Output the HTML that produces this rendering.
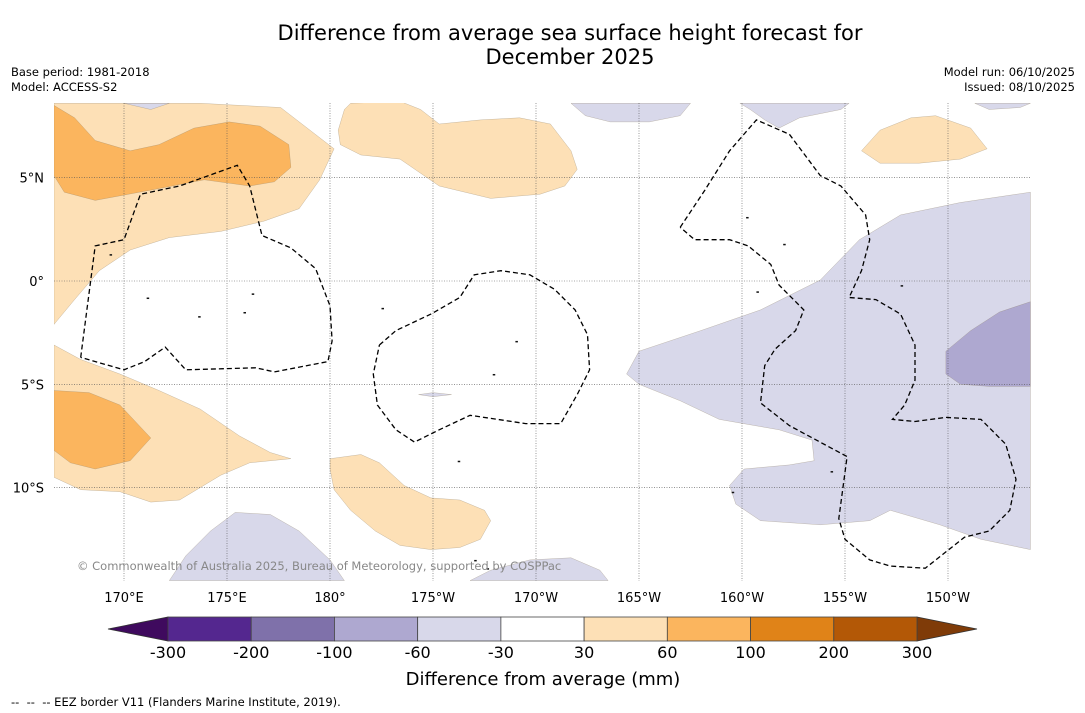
<!DOCTYPE html>
<html><head><meta charset="utf-8"><style>
body{margin:0;background:#fff;font-family:"DejaVu Sans","Liberation Sans",sans-serif;}
#wrap{position:relative;width:1085px;height:713px;overflow:hidden;background:#fff;}
.t{position:absolute;white-space:nowrap;color:#000;}
</style></head><body>
<div id="wrap">
<div class="t" style="left:0;width:1140px;top:21px;text-align:center;font-size:21px;line-height:24px;">Difference from average sea surface height forecast for<br>December 2025</div>
<div class="t" style="left:11px;top:65px;font-size:11.5px;line-height:15px;">Base period: 1981-2018<br>Model: ACCESS-S2</div>
<div class="t" style="right:10px;top:65px;font-size:11.5px;line-height:15px;text-align:right;">Model run: 06/10/2025<br>Issued: 08/10/2025</div>
<svg id="map" width="1085" height="713" style="position:absolute;left:0;top:0"></svg>
<div class="t" style="left:11px;top:695px;font-size:11.5px;">-- &nbsp;-- &nbsp;-- EEZ border V11 (Flanders Marine Institute, 2019).</div>
</div>
<script>
const lonTicks=[170,175,180,185,190,195,200,205,210];
const lonLabels=["170°E","175°E","180°","175°W","170°W","165°W","160°W","155°W","150°W"];
const latTicks=[5,0,-5,-10];
const latLabels=["5°N","0°","5°S","10°S"];
const cbLevels=["-300","-200","-100","-60","-30","30","60","100","200","300"];
const cbColors=["#54278f","#7f71aa","#aea8d0","#d8d8ea","#ffffff","#fde0b6","#fbb55e","#e08318","#b35806"];
const cbUnder="#3f0a5e", cbOver="#7f3b08";
const lightOrange=[
[[166.6,8.6],[173.7,8.6],[177.6,8.4],[180.2,6.4],[179.5,4.9],[178.5,3.5],[176.8,2.9],[174.7,2.4],[172.2,2.1],[170.3,1.5],[168.8,0.5],[167.6,-0.9],[166.6,-2.1]],
[[181.0,8.6],[183.4,8.7],[184.4,8.3],[185.3,7.6],[187.3,7.8],[189.2,7.9],[190.7,7.6],[191.7,6.3],[192.0,5.4],[191.4,4.6],[190.2,4.2],[187.8,4.0],[185.3,4.6],[183.4,5.9],[181.5,6.1],[180.5,6.6],[180.4,7.3],[180.7,8.3]],
[[205.8,6.3],[206.7,7.3],[208.2,7.9],[209.4,8.0],[211.1,7.4],[211.9,6.4],[210.6,5.9],[208.6,5.7],[206.7,5.7]],
[[166.6,-3.1],[167.9,-3.8],[169.8,-4.5],[171.7,-5.3],[173.7,-6.2],[175.6,-7.5],[177.1,-8.3],[178.1,-8.6],[176.1,-8.8],[174.7,-9.4],[172.7,-10.6],[171.3,-10.7],[169.8,-10.2],[167.9,-10.1],[166.6,-9.5]],
[[180.0,-8.6],[181.5,-8.4],[182.4,-8.8],[183.6,-9.9],[184.9,-10.5],[186.3,-10.6],[187.5,-11.1],[187.8,-11.6],[187.3,-12.5],[186.3,-12.9],[184.9,-13.0],[183.4,-12.8],[182.2,-12.1],[181.0,-11.1],[180.2,-10.1],[180.0,-9.1]]
];
const midOrange=[
[[166.6,8.5],[167.6,7.9],[168.6,6.8],[170.3,6.3],[171.7,6.6],[173.4,7.4],[175.1,7.7],[176.6,7.5],[178.0,6.6],[178.1,5.5],[177.3,4.8],[176.1,4.6],[173.9,4.9],[171.3,4.4],[168.6,3.9],[167.1,4.3],[166.6,5.1]],
[[166.6,-5.3],[168.3,-5.4],[169.8,-6.0],[171.3,-7.6],[170.3,-8.7],[168.6,-9.1],[167.4,-8.8],[166.6,-8.2]]
];
const lightPurple=[
[[194.4,-4.5],[195.0,-3.4],[198.0,-2.4],[200.9,-1.4],[203.8,0.05],[205.7,2.0],[207.7,3.2],[210.6,3.8],[214.0,4.3],[214.0,-13.0],[211.6,-12.5],[209.6,-11.8],[207.2,-11.1],[206.2,-11.6],[203.8,-11.8],[200.9,-11.6],[199.7,-10.8],[199.4,-9.9],[200.1,-9.1],[202.3,-8.9],[203.5,-8.7],[203.4,-7.7],[201.8,-7.2],[198.9,-6.7],[197.0,-5.8],[195.0,-5.0]],
[[199.9,8.6],[205.2,8.6],[204.8,8.3],[202.8,7.9],[201.8,7.4],[201.1,7.8],[200.4,8.3]],
[[191.7,8.6],[197.5,8.6],[197.0,8.0],[195.5,7.7],[193.6,7.7],[192.4,8.0]],
[[170.0,8.6],[172.2,8.6],[171.3,8.3]],
[[211.3,8.6],[214.0,8.6],[213.5,8.4],[212.0,8.3]],
[[172.2,-14.5],[173.0,-13.3],[174.2,-12.1],[175.4,-11.2],[177.1,-11.3],[178.5,-12.1],[180.0,-13.5],[180.7,-14.5]],
[[186.8,-14.5],[187.8,-14.0],[189.7,-13.5],[191.7,-13.4],[193.1,-14.0],[193.5,-14.5]],
[[184.3,-5.5],[185.0,-5.4],[185.9,-5.5],[185.0,-5.6]]
];
const midPurple=[
[[209.9,-3.4],[211.1,-2.4],[212.5,-1.5],[214.0,-1.0],[214.0,-5.1],[212.0,-5.1],[210.6,-5.0],[209.9,-4.5]]
];
const eez=[
[[167.9,-3.7],[168.6,1.7],[170.0,2.0],[170.8,4.2],[172.7,4.6],[175.5,5.6],[176.1,4.6],[176.7,2.2],[178.1,1.6],[179.3,0.6],[180.0,-1.2],[180.1,-2.9],[179.9,-3.9],[177.3,-4.4],[176.4,-4.2],[173.0,-4.3],[172.0,-3.2],[171.0,-3.9],[170.0,-4.3],[167.9,-3.7]],
[[182.4,-3.1],[183.2,-2.4],[184.9,-1.6],[186.3,-0.8],[187.0,0.3],[188.3,0.5],[189.7,0.3],[190.9,-0.4],[191.9,-1.4],[192.5,-2.6],[192.6,-4.3],[192.0,-5.5],[191.2,-6.9],[189.5,-6.9],[186.8,-6.5],[185.3,-7.2],[184.1,-7.8],[183.2,-7.2],[182.3,-6.0],[182.1,-4.5],[182.4,-3.1]],
[[197.0,2.6],[198.2,4.4],[199.4,6.3],[200.7,7.8],[202.3,7.1],[203.8,5.1],[204.8,4.6],[206.0,3.2],[206.2,2.0],[205.8,0.5],[205.2,-0.8],[206.5,-0.9],[207.7,-1.6],[208.4,-3.1],[208.4,-4.8],[207.9,-6.0],[207.3,-6.7],[208.4,-6.8],[209.9,-6.6],[211.6,-6.7],[212.8,-7.9],[213.3,-9.6],[213.0,-11.1],[212.0,-12.1],[210.8,-12.4],[208.9,-13.9],[207.2,-13.8],[206.2,-13.5],[205.0,-12.5],[204.7,-11.5],[205.1,-8.5],[202.3,-7.0],[200.9,-5.9],[201.1,-4.1],[201.6,-3.3],[202.6,-2.4],[203.0,-1.4],[201.8,-0.2],[201.4,0.8],[200.3,1.7],[199.4,2.0],[197.7,2.0],[197.0,2.6]]
];
const islands=[[169.3,1.3],[171.1,-0.8],[173.6,-1.7],[175.8,-1.5],[176.2,-0.6],[182.5,-1.3],[187.9,-4.5],[189.0,-2.9],[186.2,-8.7],[200.2,3.1],[202.0,1.8],[207.7,-0.2],[204.3,-9.2],[187.6,-13.9],[187.0,-13.5],[199.5,-10.2],[200.7,-0.5]];

const NS="http://www.w3.org/2000/svg";
const FF='DejaVu Sans, Liberation Sans, sans-serif';
const svg=document.getElementById('map');
const X0=54,X1=1031,Y0=103,Y1=581;
const xS=lon=>124+(lon-170)*20.6;
const yS=lat=>281-lat*20.66;
function mk(tag,attrs,parent){const e=document.createElementNS(NS,tag);for(const k in attrs)e.setAttribute(k,attrs[k]);(parent||svg).appendChild(e);return e;}
const defs=mk('defs',{});
const cp=mk('clipPath',{id:'mc'},defs);
mk('rect',{x:X0,y:Y0,width:X1-X0,height:Y1-Y0},cp);
const g=mk('g',{'clip-path':'url(#mc)'});
function poly(list,fill,name){list.forEach(p=>{
 const e=mk('path',{d:'M'+p.map(q=>xS(q[0]).toFixed(1)+','+yS(q[1]).toFixed(1)).join('L')+'Z',fill:fill,stroke:'#8a7a60','stroke-width':0.4,'stroke-opacity':0.6},g);
 
 
});}
poly(lightOrange,cbColors[5],'anomaly-30-60');
poly(midOrange,cbColors[6],'anomaly-60-100');
poly(lightPurple,cbColors[3],'anomaly-neg60-neg30');
poly(midPurple,cbColors[2],'anomaly-neg100-neg60');
lonTicks.forEach((l,i)=>{
 const x=xS(l);
 const ln=mk('line',{x1:x,x2:x,y1:Y0,y2:Y1,stroke:'#555','stroke-width':0.6,'stroke-dasharray':'1,1.5'},g);
 
 
 const t=mk('text',{x:x,y:602,'font-size':13,'text-anchor':'middle','font-family':FF});
 t.textContent=lonLabels[i];
 
 
});
latTicks.forEach((l,i)=>{
 const y=yS(l);
 const ln=mk('line',{x1:X0,x2:X1,y1:y,y2:y,stroke:'#555','stroke-width':0.6,'stroke-dasharray':'1,1.5'},g);
 
 
 const t=mk('text',{x:44,y:y+5,'font-size':13,'text-anchor':'end','font-family':FF});
 t.textContent=latLabels[i];
 
 
});
eez.forEach(p=>{
 const e=mk('path',{d:'M'+p.map(q=>xS(q[0]).toFixed(1)+','+yS(q[1]).toFixed(1)).join('L'),fill:'none',stroke:'#000','stroke-width':1.3,'stroke-dasharray':'5,3'},g);
 
 
});
islands.forEach(q=>{
 const e=mk('rect',{x:xS(q[0]),y:yS(q[1]),width:2.5,height:1.5,fill:'#111'},g);
 
 
});
const cr=mk('text',{x:77,y:570,'font-size':11.5,fill:'#888','font-family':FF},g);
cr.textContent='© Commonwealth of Australia 2025, Bureau of Meteorology, supported by COSPPac';


const cbX0=168,cbW=(917-168)/cbColors.length,cbY=617,cbH=24;
const ut=mk('polygon',{points:`108,${cbY+cbH/2} ${cbX0},${cbY} ${cbX0},${cbY+cbH}`,fill:cbUnder,stroke:'#333','stroke-width':0.8});


const ex=cbX0+cbW*cbColors.length;
const ot=mk('polygon',{points:`${ex},${cbY} ${ex+60},${cbY+cbH/2} ${ex},${cbY+cbH}`,fill:cbOver,stroke:'#333','stroke-width':0.8});


cbColors.forEach((c,i)=>{
 const r=mk('rect',{x:cbX0+i*cbW,y:cbY,width:cbW,height:cbH,fill:c,stroke:'#444','stroke-width':0.8});
 
 
});
cbLevels.forEach((v,i)=>{
 const t=mk('text',{x:cbX0+i*cbW,y:658,'font-size':16,'text-anchor':'middle','font-family':FF});
 t.textContent=v;
 
 
});
const ct=mk('text',{x:543,y:685,'font-size':18,'text-anchor':'middle','font-family':FF});
ct.textContent='Difference from average (mm)';


</script>
</body></html>
